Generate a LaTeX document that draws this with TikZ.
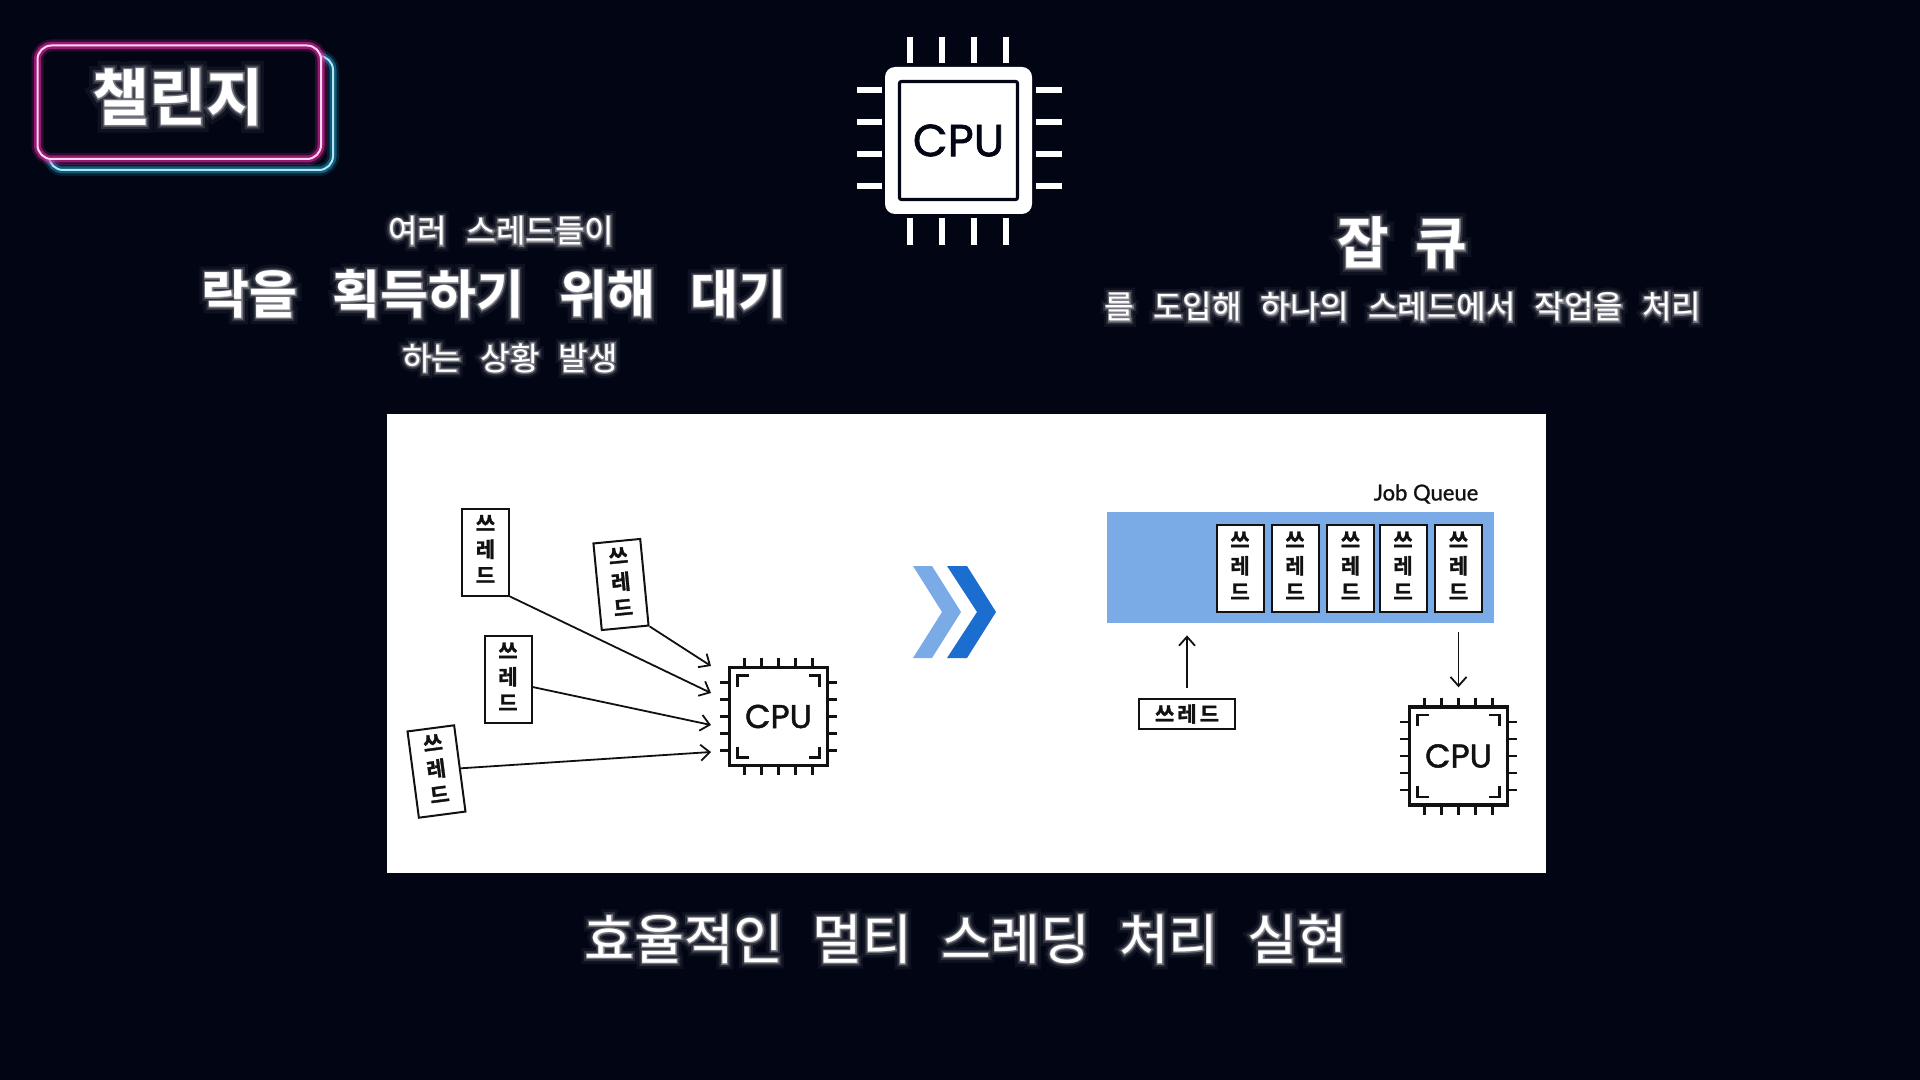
\documentclass[tikz,border=0pt]{standalone}
\usepackage{fontspec}
\usetikzlibrary{arrows.meta,calc}
\newfontfamily\krR{Noto Sans CJK KR}
\newfontfamily\krB{Noto Sans CJK KR Bold}
\newfontfamily\krL{Noto Sans CJK KR}
\newfontfamily\krRa[FakeBold=9]{Noto Sans CJK KR}
\newfontfamily\krRb[FakeBold=20]{Noto Sans CJK KR}
\newfontfamily\krRc[FakeBold=36]{Noto Sans CJK KR}
\newfontfamily\krLa[FakeBold=5]{Noto Sans CJK KR}
\newfontfamily\krLb[FakeBold=12]{Noto Sans CJK KR}
\newfontfamily\krLc[FakeBold=22]{Noto Sans CJK KR}
\newfontfamily\krBa[FakeBold=5]{Noto Sans CJK KR Bold}
\newfontfamily\krBb[FakeBold=12]{Noto Sans CJK KR Bold}
\newfontfamily\krBc[FakeBold=24]{Noto Sans CJK KR Bold}
\newfontfamily\krT[FakeBold=1.5]{Noto Sans CJK KR Bold}
\newfontfamily\cpufont[FakeBold=1.5]{Poppins}
\newfontfamily\latofont[FakeBold=1]{Lato}
\definecolor{bgc}{HTML}{020514}
\definecolor{pinkc}{HTML}{FF2AB4}
\definecolor{cyanc}{HTML}{22B8E8}
\definecolor{qblue}{HTML}{7BABE6}
\definecolor{dblue}{HTML}{1C6DD0}
\definecolor{inkc}{HTML}{111111}
\newcommand{\wg}[1]{\hspace{#1em}}
\tikzset{
  px/.style={x=.5pt,y=-.5pt},
  thread/.style={draw=inkc,fill=white,line width=1pt,minimum width=23.5pt,minimum height=43.5pt,inner sep=0pt,font=\krT\fontsize{10.5}{13}\selectfont,text=inkc},
  flow/.style={draw=inkc,line width=.9pt,-{Straight Barb[length=4.5pt,width=8pt,line width=.9pt]}},
  pin/.style={draw=inkc,line width=1.4pt},
  corner/.style={draw=inkc,line width=1.2pt},
  bigpin/.style={draw=white,line width=3pt},
  glowC/.style={text=white,text opacity=.05,inner sep=0pt},
  glowB/.style={text=white,text opacity=.13,inner sep=0pt},
  glowA/.style={text=white,text opacity=.32,inner sep=0pt},
  lab/.style={text=white,inner sep=0pt},
}
% \glowlabel{name}{x}{y}{size pt}{R, L or B}{text}
\newcommand{\glowlabel}[6]{%
  \node[glowC] (#1c) at (#2,#3) {\csname kr#5c\endcsname\fontsize{#4}{#4}\selectfont #6};
  \node[glowB] (#1b) at (#2,#3) {\csname kr#5b\endcsname\fontsize{#4}{#4}\selectfont #6};
  \node[glowA] (#1a) at (#2,#3) {\csname kr#5a\endcsname\fontsize{#4}{#4}\selectfont #6};
  \node[lab] (#1) at (#2,#3) {\csname kr#5\endcsname\fontsize{#4}{#4}\selectfont #6};
}
\newcommand{\cpuicon}[3]{%
  \begin{scope}[shift={(#2,#3)}]
    \foreach \t in {-34,-17,0,17,34}{
      \draw[pin] (\t,-58.5) -- (\t,-49);
      \draw[pin] (\t,49) -- (\t,58.5);
      \draw[pin] (-58.5,\t) -- (-49,\t);
      \draw[pin] (49,\t) -- (58.5,\t);
    }
    \node[draw=inkc,fill=white,line width=1.7pt,minimum size=49pt,inner sep=0pt,font=\cpufont\fontsize{16.5}{16.5}\selectfont,text=inkc] (#1) at (0,0) {CPU};
    \draw[corner] (-41,-30) -- (-41,-41) -- (-30,-41);
    \draw[corner] (41,-30) -- (41,-41) -- (30,-41);
    \draw[corner] (-41,30) -- (-41,41) -- (-30,41);
    \draw[corner] (41,30) -- (41,41) -- (30,41);
  \end{scope}
}
\newcommand{\threadstack}{\raisebox{1pt}{\begin{tabular}{@{}c@{}}쓰\\레\\드\end{tabular}}}
\begin{document}
\begin{tikzpicture}[px]
\useasboundingbox (0,0) rectangle (1920,1080);
\fill[bgc] (0,0) rectangle (1920,1080);

% badge
\foreach \w/\o in {6/.14,3.5/.4}{
  \draw[cyanc,line width=\w pt,opacity=\o,rounded corners=7pt] (49,56) rectangle (333,170);
}
\draw[cyanc!35!white,line width=1pt,rounded corners=7pt] (49,56) rectangle (333,170);
\fill[bgc,rounded corners=7pt] (37.5,45.5) rectangle (321,159);
\foreach \w/\o in {6/.18,3.5/.5}{
  \draw[pinkc,line width=\w pt,opacity=\o,rounded corners=7pt] (37.5,45.5) rectangle (321,159);
}
\draw[pinkc!20!white,line width=1pt,rounded corners=7pt] (37.5,45.5) rectangle (321,159);
\glowlabel{badge}{178}{97}{31}{B}{챌린지}

% big CPU
\foreach \t in {910,942,974,1006}{
  \draw[bigpin] (\t,37) -- (\t,63);
  \draw[bigpin] (\t,218) -- (\t,245);
}
\foreach \t in {90,122,154,186}{
  \draw[bigpin] (857,\t) -- (882,\t);
  \draw[bigpin] (1036,\t) -- (1062,\t);
}
\fill[white,rounded corners=5pt] (885,67) rectangle (1032,214);
\node[draw=bgc,fill=white,line width=1.6pt,rounded corners=1pt,minimum size=59pt,inner sep=0pt,font=\cpufont\fontsize{22.5}{22.5}\selectfont,text=bgc] (bigcpu) at (958.5,140.5) {\raisebox{-.5pt}{CPU}};

% headings
\glowlabel{ha}{501}{231}{16}{R}{여러\wg{.62}스레드들이}
\glowlabel{hb}{494}{294}{26}{B}{락을\wg{.68}획득하기\wg{.68}위해\wg{.68}대기}
\glowlabel{hc}{510}{358}{16}{R}{하는\wg{.6}상황\wg{.6}발생}
\glowlabel{hd}{1402}{243}{28}{B}{잡\wg{.48}큐}
\glowlabel{he}{1403}{307}{16}{R}{를\wg{.6}도입해\wg{.6}하나의\wg{.6}스레드에서\wg{.6}작업을\wg{.6}처리}
\glowlabel{hf}{966}{939}{27}{L}{효율적인\wg{.54}멀티\wg{.54}스레딩\wg{.54}처리\wg{.54}실현}

% panel
\fill[white] (387,414) rectangle (1546,873);

% left threads
\node[thread] (t1) at (485.5,552) {\threadstack};
\node[thread,rotate=5.5] (t2) at (621,584.5) {\threadstack};
\node[thread] (t3) at (508,679.5) {\threadstack};
\node[thread,rotate=7.5] (t4) at (436.5,771.5) {\threadstack};

\cpuicon{cpua}{778.5}{716.5}

\coordinate (a1) at (711,693);
\coordinate (a2) at (711,666);
\coordinate (a3) at (711,725);
\coordinate (a4) at (711,752);
\draw[flow] (t1.south east) -- (a1);
\draw[flow] (t2.south east) -- (a2);
\draw[flow] (t3.-17) -- (a3);
\draw[flow] (t4.east) -- (a4);

% chevrons
\fill[qblue] (913,566) -- (932,566) -- (961,612) -- (932,658) -- (913,658) -- (942,612) -- cycle;
\fill[dblue] (947,566) -- (967,566) -- (996,612) -- (967,658) -- (947,658) -- (977,612) -- cycle;

% queue
\node[fill=qblue,minimum width=193.5pt,minimum height=55.5pt,inner sep=0pt] (queue) at (1300.5,567.5) {};
\node[text=inkc,inner sep=0pt,font=\latofont\fontsize{11}{11}\selectfont] (jq) at (1426,494) {Job Queue};
\node[thread] (q1) at (1240,568.5) {\threadstack};
\node[thread] (q2) at (1295,568.5) {\threadstack};
\node[thread] (q3) at (1350.5,568.5) {\threadstack};
\node[thread] (q4) at (1403,568.5) {\threadstack};
\node[thread] (q5) at (1458.5,568.5) {\threadstack};

\node[thread,minimum width=48pt,minimum height=15pt] (h) at (1187,714) {\raisebox{1pt}{쓰\kern1.5pt 레\kern1.5pt 드}};
\cpuicon{cpub}{1458.5}{756}

\draw[flow,shorten <=5pt,shorten >=6pt] (h.north) -- (h.north |- queue.south);
\draw[flow,shorten <=4.5pt,shorten >=9pt] (cpub.north |- queue.south) -- (cpub.north);
\end{tikzpicture}
\end{document}
